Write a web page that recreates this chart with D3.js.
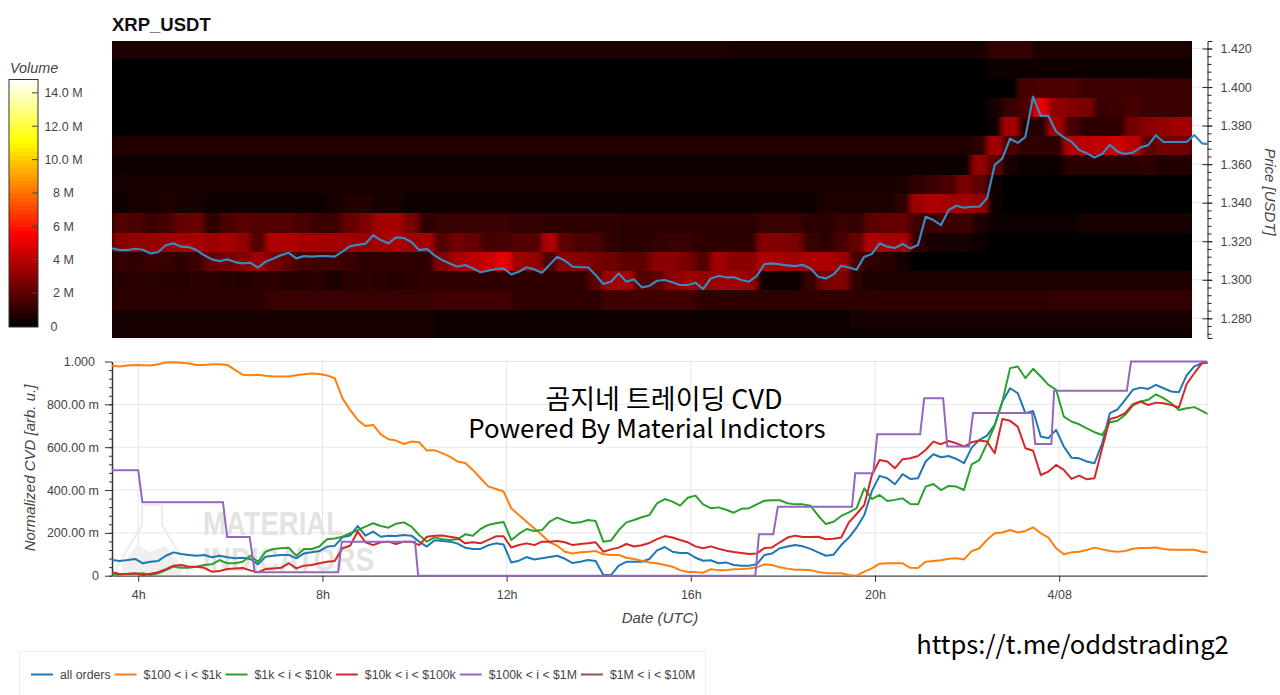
<!DOCTYPE html>
<html>
<head>
<meta charset="utf-8">
<script src="https://cdn.jsdelivr.net/npm/d3@7"></script>
<style>
body { margin: 0; background: #fff; }
text { font-family: "Liberation Sans", sans-serif; }
</style>
</head>
<body>
<svg id="chart" width="1280" height="695"></svg>
<script>
// hours since 4/07 00:00, one sample every 10 minutes
const startHour = 3.4333;
const stepHour = 1 / 6;

const priceValues = [
  1.3163,1.3154,1.3154,1.3161,1.3156,1.3137,1.3144,1.3179,1.3189,1.3172,
  1.3170,1.3154,1.3127,1.3106,1.3097,1.3106,1.3092,1.3085,1.3089,1.3063,
  1.3094,1.3111,1.3128,1.3140,1.3111,1.3123,1.3120,1.3123,1.3123,1.3120,
  1.3146,1.3175,1.3181,1.3187,1.3231,1.3206,1.3189,1.3220,1.3217,1.3196,
  1.3154,1.3160,1.3127,1.3103,1.3085,1.3068,1.3077,1.3059,1.3039,1.3047,
  1.3056,1.3059,1.3028,1.3042,1.3065,1.3054,1.3037,1.3078,1.3120,1.3099,
  1.3068,1.3065,1.3065,1.3025,1.2978,1.2990,1.3033,1.2990,1.3002,1.2961,
  1.2968,1.2995,1.2999,1.2987,1.2973,1.2973,1.2985,1.2952,1.3007,1.3020,
  1.3013,1.3013,1.2999,1.2990,1.3020,1.3082,1.3085,1.3080,1.3075,1.3071,
  1.3077,1.3059,1.3016,1.3007,1.3028,1.3073,1.3064,1.3052,1.3120,1.3134,
  1.3189,1.3172,1.3165,1.3186,1.3163,1.3180,1.3327,1.3310,1.3284,1.3362,
  1.3384,1.3374,1.3379,1.3379,1.3423,1.3596,1.3630,1.3732,1.3711,1.3742,
  1.3950,1.3850,1.3850,1.3769,1.3739,1.3717,1.3673,1.3656,1.3635,1.3653,
  1.3700,1.3665,1.3653,1.3660,1.3687,1.3699,1.3750,1.3715,1.3715,1.3715,
  1.3715,1.3751,1.3708,1.3703
];

// normalized CVD, in milli units
const allOrders = [
  73,69,73,78,58,65,69,93,109,101,97,93,97,86,93,86,81,84,78,53,
  89,93,97,97,81,104,109,115,136,139,179,187,232,187,206,182,187,185,190,187,
  159,136,
  165,162,159,150,131,125,125,142,151,146,62,70,87,76,81,87,93,79,59,65,
  73,69,3,3,47,65,65,65,78,118,134,112,106,106,84,70,72,58,62,50,
  47,47,53,97,104,128,136,143,137,125,109,93,98,143,178,
  224,283,396,466,455,427,474,452,455,533,567,553,559,545,525,598,634,654,704,813,
  875,852,759,769,650,642,681,603,551,548,533,525,618,759,776,821,868,878,872,891,
  875,860,857,935,977,992,997
];
const orders100To1k = [
  980,977,981,984,983,981,987,995,997,994,991,984,984,987,987,984,961,938,936,938,
  933,930,930,930,936,941,944,942,935,922,829,774,727,699,704,660,637,631,615,626,
  623,584,
  586,572,556,533,526,494,455,417,405,393,315,283,252,221,190,156,140,112,104,109,
  112,115,100,97,97,84,78,70,62,58,50,42,26,17,17,14,30,26,26,30,
  31,34,39,53,50,39,33,28,28,26,17,12,12,11,3,
  0,19,34,56,58,58,58,37,36,65,69,72,79,81,76,115,128,168,198,202,
  213,202,209,226,198,178,128,100,109,112,120,131,123,115,112,115,126,129,129,132,
  125,121,121,121,121,112,107
];
const orders1kTo10k = [
  6,6,8,9,11,3,11,26,42,37,37,42,50,53,73,58,58,65,93,65,
  112,125,128,131,93,125,125,136,170,174,182,198,213,229,245,232,224,243,249,229,
  190,159,
  179,170,167,170,193,187,218,237,245,251,167,195,218,209,213,252,271,257,246,249,
  260,255,159,164,212,249,260,273,283,338,358,346,327,364,374,333,315,319,308,294,
  312,315,333,350,352,352,338,333,333,327,280,241,252,279,296,
  315,408,358,377,349,354,361,335,333,416,428,400,419,416,400,520,540,618,701,813,
  969,977,922,966,930,891,868,743,720,707,688,670,657,716,723,751,794,813,821,847,
  829,805,774,782,787,769,751
];
const orders10kTo100k = [
  16,8,9,11,3,9,16,31,47,50,42,42,37,19,22,31,34,36,25,16,
  31,34,37,58,34,47,50,58,65,69,128,140,206,156,143,156,159,148,159,159,
  143,182,
  187,188,182,176,151,156,151,167,184,184,132,143,151,143,159,159,162,156,143,148,
  151,156,112,123,131,148,136,142,153,171,185,178,167,156,137,128,137,126,117,111,
  106,101,104,129,132,156,178,187,181,181,182,170,173,178,249,
  288,330,470,540,533,502,544,548,559,587,626,614,629,618,603,623,631,626,572,732,
  723,696,595,583,470,486,517,494,452,467,450,455,595,732,741,759,801,813,797,808,
  805,797,785,894,945,992,997
];

// the $100k - $1M series moves in steps, so it keeps its own hours
const stepHours = [
  3.43,4.00,4.09,5.84,5.93,6.42,6.53,8.34,8.42,10.01,10.08,17.40,17.48,17.79,17.89,
  19.50,19.57,19.96,20.05,20.98,21.07,21.48,21.57,22.04,22.13,23.41,23.48,23.83,23.89,25.47,25.56,27.21
];
const orders100kTo1M = [
  492,492,343,343,181,181,16,16,159,159,0,0,193,193,322,
  322,478,478,660,660,829,829,603,603,759,759,615,615,864,864,1000,1000
];

const seriesNames = ["all orders", "$100 < i < $1k", "$1k < i < $10k", "$10k < i < $100k", "$100k < i < $1M", "$1M < i < $10M"];
const seriesColors = ["#1f77b4", "#ff7f0e", "#2ca02c", "#d62728", "#9467bd", "#8c564b"];

const priceTicks = [1.28, 1.30, 1.32, 1.34, 1.36, 1.38, 1.40, 1.42];
const cvdTicks = [0, 200, 400, 600, 800, 1000];
const cvdTickLabels = ["0", "200.00 m", "400.00 m", "600.00 m", "800.00 m", "1.000"];
const hourTicks = [4, 8, 12, 16, 20, 24];
const hourTickLabels = ["4h", "8h", "12h", "16h", "20h", "4/08"];
const volumeTicks = [0, 2, 4, 6, 8, 10, 12, 14];
const volumeTickLabels = ["0", "2 M", "4 M", "6 M", "8 M", "10.0 M", "12.0 M", "14.0 M"];

// volume heatmap in millions, one row per price bin (top row first), one column per 20 minutes
const binTop = 1.4245;
const binHeight = 0.01;
const heatRows = [
  [.6,.6,.6,.6,.6,.6,.6,.6,.6,.6,.6,.6,.6,.6,.6,.6,.6,.6,.6,.6,.6,.6,.6,.6,.6,.6,.6,.6,.6,.6,.6,.6,.6,.6,.6,.6,.6,.6,.6,.6,.5,.5,.5,.5,.5,.5,.5,.5,.5,.5,.5,.5,.5,.5,.5,.5,.5,1.1,1.1,1.1,.6,.6,.6,.6,.6,.6,.6,.6,.6,.6,.6],
  [.12,.12,.12,.12,.12,.12,.12,.12,.12,.12,.12,.12,.12,.12,.12,.12,.12,.12,.12,.12,.12,.12,.12,.12,.12,.12,.12,.12,.12,.12,.12,.12,.12,.12,.12,.12,.12,.12,.12,.12,.12,.12,.12,.12,.12,.12,.12,.12,.12,.12,.12,.12,.12,.12,.12,.12,.12,.2,.2,.2,.35,.35,.35,.35,.35,.35,.35,.35,.35,.35,.35],
  [.1,.1,.1,.1,.1,.1,.1,.1,.1,.1,.1,.1,.1,.1,.1,.1,.1,.1,.1,.1,.1,.1,.1,.1,.1,.1,.1,.1,.1,.1,.1,.1,.1,.1,.1,.1,.1,.1,.1,.1,.1,.1,.1,.1,.1,.1,.1,.1,.1,.1,.1,.1,.1,.1,.1,.1,.1,.1,.1,1.5,1.7,1.7,1.7,1.3,1.3,1.3,1.3,1.2,1.2,1.2,1.2],
  [.1,.1,.1,.1,.1,.1,.1,.1,.1,.1,.1,.1,.1,.1,.1,.1,.1,.1,.1,.1,.1,.1,.1,.1,.1,.1,.1,.1,.1,.1,.1,.1,.1,.1,.1,.1,.1,.1,.1,.1,.1,.1,.1,.1,.1,.1,.1,.1,.1,.1,.1,.1,.1,.1,.1,.1,.1,.4,1.2,1.6,5,3.2,2.8,2.6,1.2,1.3,1.5,1.2,1.2,1.2,1.2],
  [.1,.1,.1,.1,.1,.1,.1,.1,.1,.1,.1,.1,.1,.1,.1,.1,.1,.1,.1,.1,.1,.1,.1,.1,.1,.1,.1,.1,.1,.1,.1,.1,.1,.1,.1,.1,.1,.1,.1,.1,.1,.1,.1,.1,.1,.1,.1,.1,.1,.1,.1,.1,.1,.1,.1,.1,.1,.2,3.6,.8,.8,3.6,1.5,1,1,1,2.5,3,3.2,3.5,3.5],
  [.7,.7,.7,.7,.7,.7,.7,.7,.7,.7,.7,.7,.7,.7,.7,.7,.7,.7,.7,.7,.7,.7,.7,.7,.7,.7,.7,.7,.7,.7,.7,.7,.7,.7,.7,.7,.7,.7,.7,.7,.7,.7,.7,.7,.7,.7,.7,.7,.7,.7,.7,.7,.7,.7,.7,.7,.9,3.5,1.6,1,1,1,3.8,4,4.2,4.5,4,2,2.5,2.5,2],
  [.25,.25,.25,.25,.25,.25,.25,.25,.25,.25,.25,.25,.25,.25,.25,.25,.25,.25,.25,.25,.25,.25,.25,.25,.25,.25,.25,.25,.25,.25,.25,.25,.25,.25,.25,.25,.25,.25,.25,.25,.25,.25,.25,.25,.25,.25,.25,.25,.25,.25,.25,.25,.25,.25,.25,.25,3.2,2,.4,.3,.3,.3,.9,.9,.9,.9,.9,1,.7,.7,.7],
  [.4,.4,.4,.4,.4,.4,.4,.4,.4,.4,.4,.4,.4,.4,.4,.4,.4,.4,.4,.4,.4,.4,.4,.4,.4,.4,.4,.4,.4,.4,.4,.4,.4,.4,.4,.4,.4,.4,.4,.4,.4,.4,.4,.4,.4,.4,.4,.4,.4,.4,.4,.6,1,1.3,1.6,2.6,2,.3,.08,.08,.08,.08,.08,.08,.08,.08,.08,.08,.08,.08,.08],
  [.35,.4,.5,.6,.5,.45,.35,.3,.25,.2,.2,.3,.35,.3,.5,.7,.7,.5,.4,.3,.25,.15,.2,.25,.25,.2,.15,.25,.3,.3,.3,.3,.3,.3,.25,.25,.25,.25,.25,.25,.25,.25,.25,.25,.25,.25,.6,.6,.6,.6,.6,1,3.4,3.8,3.5,3.5,3.2,.2,.12,.12,.12,.12,.12,.12,.12,.12,.12,.12,.12,.12,.12],
  [1.8,1.7,1.3,1.5,2.2,2.3,1,1.7,1.9,1.8,1.8,1.8,1.6,1.3,1.2,2.2,2.7,3.6,3.6,2.6,1,1.2,1.2,1.2,1.2,1.2,1.1,1.1,1,1,1,1,1,.9,.9,.9,.9,.9,.9,.9,.9,.9,1.2,1.2,1.2,.9,.9,1.2,1.1,2,2.2,2.2,1.3,1.2,1.3,1.3,.7,.15,.15,.15,.15,.15,.15,.45,.45,.45,.45,.45,.45,.45,.45],
  [3,3.2,3.2,3.4,3.6,3.6,3.4,3.6,3.2,1.8,3.8,3.8,3.6,3.6,3.6,3.4,3.4,3.6,3.8,3.4,3.6,1.8,2.5,2.2,1.5,1.6,1.8,1.8,3.8,2,1.7,1.6,1,.9,.9,1.1,1.2,1.2,1,1,1,1,2.8,2.8,2.6,1.2,1,1.6,2.2,3.8,3.6,3.6,1,.5,.5,.5,.3,.1,.1,.1,.1,.1,.1,.1,.1,.1,.1,.1,.1,.1,.1],
  [1.1,1,1.2,1.2,1,1.3,2.2,2.5,2.8,3.5,2.6,2,1.5,1.2,1.4,1.2,1,1,1,1,1,2.8,3.6,4,4.4,5,3.4,3.2,1.6,3,3,2.6,2.4,2,2,3,3,2.6,1.8,3.5,3,3,3.8,3.6,3.6,3.7,3.7,3.4,1.6,1,.8,.5,.06,.06,.06,.06,.06,.06,.06,.06,.06,.06,.06,.06,.06,.06,.06,.06,.06,.06,.06],
  [.8,.9,.9,.8,.8,.9,.9,.8,.7,.9,.9,.8,.8,.9,.6,.9,1,.9,.8,.9,1,1,1,1,1,1,1,1,1,1,1,2,3.5,3.6,1.8,2,3,3.4,3.2,3.4,3.6,3.3,.3,.2,.2,1.2,2.6,2.8,.9,.6,.6,.6,.6,.6,.6,.6,.6,.6,.6,.6,.6,.6,.6,.6,.6,.6,.6,.6,.6,.6,.6],
  [.9,.9,.9,.9,.9,.9,.9,.9,.9,.9,1.2,1.2,1.2,1.2,1.2,1.2,1.2,1.2,1.2,1.2,1.2,1.4,1.4,1.4,1.4,1.4,1,1,1,1,1,1,1.4,1.4,1.4,1.4,1.4,1.4,1,1,1,1,1,1,1,1,1,1,1,1,1,1,1,1,1,1,1,1,1,1,1,1.1,1.1,1.1,1.1,1.1,1.1,1.1,1.1,1.1,1.1],
  [.4,.4,.4,.4,.4,.4,.4,.4,.4,.4,.4,.4,.4,.4,.4,.4,.4,.4,.4,.4,.4,.35,.35,.35,.35,.35,.35,.35,.35,.35,.35,.35,.35,.35,.35,.35,.35,.35,.35,.35,.35,.35,.35,.35,.35,.35,.35,.35,.45,.45,.45,.45,.45,.45,.45,.45,.45,.45,.45,.45,.45,.45,.45,.45,.45,.45,.45,.45,.45,.45,.45],
  [.5,.5,.5,.5,.5,.5,.5,.5,.5,.5,.5,.5,.5,.5,.5,.5,.5,.5,.5,.5,.5,.35,.35,.35,.35,.35,.35,.35,.35,.35,.35,.35,.35,.35,.35,.35,.35,.35,.35,.35,.35,.35,.35,.35,.35,.35,.35,.35,.35,.35,.35,.35,.35,.35,.35,.35,.35,.35,.35,.35,.35,.35,.35,.35,.35,.35,.35,.35,.35,.35,.35]
];

const svg = d3.select("#chart");
const textColor = "#444";

const x = d3.scaleLinear().domain([3.43, 27.21]).range([112, 1207]);
const heatEndHour = x.invert(1192);
const yPrice = d3.scaleLinear().domain([1.2698, 1.4239]).range([338, 41]);
const yCvd = d3.scaleLinear().domain([0, 1000]).range([575.7, 361.5]);
const yVolume = d3.scaleLinear().domain([0, 14.8]).range([326.5, 79.5]);

// hot colormap
const hot = d3.scaleLinear().domain([0, 5.55, 11.1, 14.8]).range(["#000", "#f00", "#ff0", "#fff"]).clamp(true);

svg.append("text").attr("x", 112).attr("y", 31).attr("font-size", 18.5).attr("font-weight", "bold").attr("fill", "#111").text("XRP_USDT");

// ---- heatmap ----
svg.append("clipPath").attr("id", "heatClip").append("rect").attr("x", 112).attr("y", 41).attr("width", 1080).attr("height", 297);
svg.append("clipPath").attr("id", "plotClip").append("rect").attr("x", 112).attr("y", 41).attr("width", 1095.5).attr("height", 540);

// the reference cells are a bit soft along the time axis
const blur = svg.append("filter").attr("id", "heatBlur").attr("x", "-1%").attr("y", "-2%").attr("width", "102%").attr("height", "104%");
blur.append("feGaussianBlur").attr("stdDeviation", "2.5 0.5");

const heatClip = svg.append("g").attr("clip-path", "url(#heatClip)");
heatClip.append("rect").attr("x", 112).attr("y", 41).attr("width", 1080).attr("height", 297).attr("fill", "#100000");
const heatLayer = heatClip.append("g").attr("filter", "url(#heatBlur)");
heatRows.forEach((row, r) => {
    heatLayer.selectAll("rect.r" + r).data(row).enter().append("rect")
        .attr("class", "r" + r)
        .attr("shape-rendering", "crispEdges")
        .attr("x", (d, i) => x(startHour + i / 3))
        .attr("width", x(startHour + 1 / 3) - x(startHour) + 0.5)
        .attr("y", yPrice(binTop - r * binHeight))
        .attr("height", yPrice(binTop - (r + 1) * binHeight) - yPrice(binTop - r * binHeight) + 0.5)
        .attr("fill", d => hot(d));
});

// faint grid between heatmap and price axis
svg.selectAll("line.priceGrid").data(priceTicks).enter().append("line").attr("class", "priceGrid")
    .attr("x1", x(heatEndHour)).attr("x2", 1207).attr("y1", d => yPrice(d)).attr("y2", d => yPrice(d))
    .attr("stroke", "#e5e5e5");

const priceLine = d3.line().x((d, i) => x(startHour + i * stepHour)).y(d => yPrice(d));
svg.append("path").datum(priceValues).attr("clip-path", "url(#plotClip)").attr("d", priceLine)
    .attr("fill", "none").attr("stroke", "#3a88bd").attr("stroke-width", 2.2).attr("stroke-linejoin", "round");

// price axis
const priceAxis = svg.append("g").attr("transform", "translate(1207.5,0)")
    .call(d3.axisRight(yPrice).tickValues(priceTicks).tickSizeOuter(0).tickSize(5).tickFormat(d3.format(".3f")));
priceAxis.selectAll(".tick line").attr("x1", -5).attr("stroke", "#222");
priceAxis.selectAll(".tick text").attr("x", 13).attr("font-size", 12.5).attr("fill", textColor).style("font-family", "Liberation Sans");
priceAxis.select(".domain").attr("stroke", "#222");
svg.append("g").attr("transform", "translate(1207.5,0)")
    .call(d3.axisRight(yPrice).tickValues(d3.range(1.272, 1.424, 0.004)).tickSize(4).tickFormat(""))
    .call(g => g.select(".domain").remove())
    .selectAll("line").attr("stroke", "#222");
svg.append("text").attr("transform", "translate(1265,192) rotate(90)").attr("text-anchor", "middle")
    .attr("font-size", 15).attr("font-style", "italic").attr("fill", textColor).text("Price [USDT]");

// ---- colorbar ----
const bands = d3.range(0, 14.8, 0.25);
svg.selectAll("rect.band").data(bands).enter().append("rect").attr("class", "band")
    .attr("shape-rendering", "crispEdges")
    .attr("x", 9).attr("width", 29)
    .attr("y", d => yVolume(d + 0.25)).attr("height", yVolume(0) - yVolume(0.25) + 0.5)
    .attr("fill", d => hot(d + 0.12));
svg.append("rect").attr("x", 9).attr("y", 79.5).attr("width", 29).attr("height", 247.5)
    .attr("fill", "none").attr("stroke", "#333").attr("stroke-width", 1);
svg.selectAll("line.volTick").data(volumeTicks.slice(1)).enter().append("line").attr("class", "volTick")
    .attr("x1", 32).attr("x2", 38).attr("y1", d => yVolume(d)).attr("y2", d => yVolume(d)).attr("stroke", "#444");
svg.selectAll("text.volLabel").data(volumeTicks).enter().append("text").attr("class", "volLabel")
    .attr("x", d => d === 0 ? 54 : 63.5).attr("y", d => yVolume(d)).attr("dy", "0.35em")
    .attr("text-anchor", "middle").attr("font-size", 12.5).attr("fill", textColor)
    .text((d, i) => volumeTickLabels[i]);
svg.append("text").attr("x", 10).attr("y", 73).attr("font-size", 14.4).attr("font-style", "italic").attr("fill", textColor).text("Volume");

// ---- CVD panel ----
svg.selectAll("line.cvdGrid").data(cvdTicks.slice(1)).enter().append("line").attr("class", "cvdGrid")
    .attr("x1", 112).attr("x2", 1207).attr("y1", d => yCvd(d)).attr("y2", d => yCvd(d)).attr("stroke", "#e6e6e6");
svg.selectAll("line.hourGrid").data(hourTicks).enter().append("line").attr("class", "hourGrid")
    .attr("x1", d => x(d)).attr("x2", d => x(d)).attr("y1", yCvd(1000)).attr("y2", yCvd(0)).attr("stroke", "#e6e6e6");
svg.append("line").attr("x1", 1207).attr("x2", 1207).attr("y1", yCvd(1000)).attr("y2", yCvd(0)).attr("stroke", "#e6e6e6");

// watermark
const mark = svg.append("g");
mark.append("path").attr("d", "M142,505 L162,505 L162,525 L187,567 L187,575 M142,505 L142,525 L117,567 L117,575")
    .attr("fill", "none").attr("stroke", "#ececec").attr("stroke-width", 2);
mark.append("path").attr("d", "M122,565 L137,545 L150,552 L165,546 L182,565 L182,575 L122,575 Z").attr("fill", "#efefef");
mark.append("text").attr("x", 203).attr("y", 535).attr("font-size", 34).attr("font-weight", "bold").attr("fill", "#e3e3e3")
    .attr("textLength", 140).attr("lengthAdjust", "spacingAndGlyphs").text("MATERIAL");
mark.append("text").attr("x", 203).attr("y", 571).attr("font-size", 34).attr("font-weight", "bold").attr("fill", "#e3e3e3")
    .attr("textLength", 171).attr("lengthAdjust", "spacingAndGlyphs").text("INDICATORS");

// y axis
const cvdAxis = svg.append("g").attr("transform", "translate(112,0)")
    .call(d3.axisLeft(yCvd).tickValues(cvdTicks).tickSize(7).tickSizeOuter(0).tickFormat((d, i) => cvdTickLabels[i]));
cvdAxis.selectAll("text").attr("x", -13).attr("font-size", 12.5).attr("fill", textColor).style("font-family", "Liberation Sans");
cvdAxis.selectAll(".tick").filter(d => d === 1000).select("text").attr("x", -17);
cvdAxis.selectAll("line").attr("stroke", "#333");
cvdAxis.select(".domain").attr("stroke", "#333").attr("stroke-width", 1.5);
svg.append("g").attr("transform", "translate(112,0)")
    .call(d3.axisLeft(yCvd).tickValues(d3.range(0, 1000, 40)).tickSize(3).tickFormat(""))
    .call(g => g.select(".domain").remove())
    .selectAll("line").attr("stroke", "#333");
svg.append("text").attr("transform", "translate(35,468) rotate(-90)").attr("text-anchor", "middle")
    .attr("font-size", 15).attr("font-style", "italic").attr("fill", textColor).text("Normalized CVD [arb. u.]");

// x axis
const hourAxis = svg.append("g").attr("transform", "translate(0,575.7)")
    .call(d3.axisBottom(x).tickValues(hourTicks).tickSize(6).tickSizeOuter(0).tickFormat((d, i) => hourTickLabels[i]));
hourAxis.selectAll("text").attr("y", 14).attr("dy", "0.71em").attr("font-size", 12.5).attr("fill", textColor).style("font-family", "Liberation Sans");
hourAxis.selectAll("line").attr("stroke", "#333");
hourAxis.select(".domain").attr("stroke", "#444").attr("stroke-width", 1.3);
svg.append("text").attr("x", 660).attr("y", 623).attr("text-anchor", "middle").attr("font-size", 15)
    .attr("font-style", "italic").attr("fill", textColor).text("Date (UTC)");

// lines
const cvdLine = d3.line().x((d, i) => x(startHour + i * stepHour)).y(d => yCvd(d));
[allOrders, orders100To1k, orders1kTo10k, orders10kTo100k].forEach((values, s) => {
    svg.append("path").datum(values).attr("clip-path", "url(#plotClip)").attr("d", cvdLine)
        .attr("fill", "none").attr("stroke", seriesColors[s]).attr("stroke-width", 2).attr("stroke-linejoin", "round");
});
const stepLine = d3.line().x((d, i) => x(stepHours[i])).y(d => yCvd(d));
svg.append("path").datum(orders100kTo1M).attr("clip-path", "url(#plotClip)").attr("d", stepLine)
    .attr("fill", "none").attr("stroke", seriesColors[4]).attr("stroke-width", 2);

// ---- overlay captions ----
const captionFont = "'Noto Sans CJK KR', 'Noto Sans', sans-serif";
svg.append("text").attr("x", 664).attr("y", 409).attr("text-anchor", "middle").attr("font-size", 27)
    .style("font-family", captionFont).attr("fill", "#000").text("곰지네 트레이딩 CVD");
svg.append("text").attr("x", 647).attr("y", 438).attr("text-anchor", "middle").attr("font-size", 25.8)
    .style("font-family", captionFont).attr("fill", "#000").text("Powered By Material Indictors");
svg.append("text").attr("x", 1072.5).attr("y", 654).attr("text-anchor", "middle").attr("font-size", 25.6)
    .style("font-family", captionFont).attr("fill", "#000").text("https://t.me/oddstrading2");

// ---- legend ----
svg.append("rect").attr("x", 19.5).attr("y", 651.5).attr("width", 686).attr("height", 60).attr("fill", "#fff").attr("stroke", "#eee");
let legendX = 31;
seriesNames.forEach((name, i) => {
    svg.append("line").attr("x1", legendX).attr("x2", legendX + 22).attr("y1", 674.5).attr("y2", 674.5)
        .attr("stroke", seriesColors[i]).attr("stroke-width", 2);
    const label = svg.append("text").attr("x", legendX + 29).attr("y", 679).attr("font-size", 12.3).attr("fill", textColor).text(name);
    legendX += 29 + label.node().getComputedTextLength() + 4;
});
</script>
</body>
</html>
